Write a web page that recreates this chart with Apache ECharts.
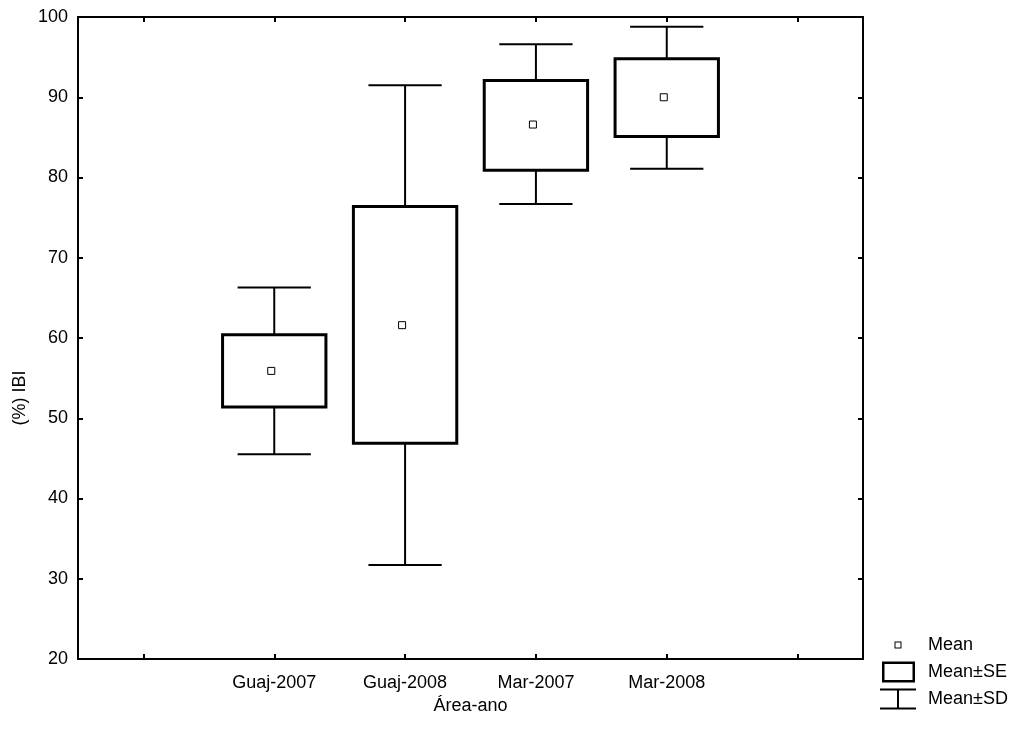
<!DOCTYPE html>
<html>
<head>
<meta charset="utf-8">
<script src="https://cdn.jsdelivr.net/npm/echarts@6/dist/echarts.min.js"></script>
<style>
html,body{margin:0;padding:0;background:#fff;}
#chart{width:1021px;height:735px;}
</style>
</head>
<body>
<div id="chart"></div>
<script>
// ---- data ----
const categories = ['', 'Guaj-2007', 'Guaj-2008', 'Mar-2007', 'Mar-2008', ' '];
const groups = ['Guaj-2007', 'Guaj-2008', 'Mar-2007', 'Mar-2008'];
const means  = [55.9, 61.6, 86.6, 90.0];
const seLow  = [51.4, 46.9, 80.9, 85.1];
const seHigh = [60.4, 76.4, 92.1, 94.8];
const sdLow  = [45.5, 31.7, 76.7, 81.1];
const sdHigh = [66.3, 91.5, 96.6, 98.8];
const yTicks = { min: 20, max: 100, interval: 10 };

const FONT = 'Liberation Sans, Arial, sans-serif';
const chart = echarts.init(document.getElementById('chart'), null, { renderer: 'canvas' });

const sdData = groups.map((g, i) => [g, sdLow[i], sdHigh[i]]);
const seData = groups.map((g, i) => [g, seLow[i], seHigh[i]]);
const meanData = groups.map((g, i) => [g, means[i]]);

const CORNERS = 'M0,0L0.01,0L0,0.01Z M43,22L42.99,22L43,21.99Z ';

function renderSD(params, api) {
  const xi = api.value(0);
  const x = api.coord([xi, 0])[0];
  const yLo = api.coord([xi, api.value(1)])[1];
  const yHi = api.coord([xi, api.value(2)])[1];
  const band = api.size([1, 0])[0];
  const half = band * 0.28;
  const style = { stroke: '#000', lineWidth: 2, fill: null };
  return {
    type: 'group',
    children: [
      { type: 'line', shape: { x1: x, y1: yLo, x2: x, y2: yHi }, style },
      { type: 'line', shape: { x1: x - half, y1: yLo, x2: x + half, y2: yLo }, style },
      { type: 'line', shape: { x1: x - half, y1: yHi, x2: x + half, y2: yHi }, style }
    ]
  };
}
function renderSE(params, api) {
  const xi = api.value(0);
  const x = api.coord([xi, 0])[0];
  const yLo = api.coord([xi, api.value(1)])[1];
  const yHi = api.coord([xi, api.value(2)])[1];
  const band = api.size([1, 0])[0];
  const w = band * 0.79;
  return {
    type: 'rect',
    shape: { x: x - w / 2, y: yHi, width: w, height: yLo - yHi },
    style: { fill: '#fff', stroke: '#000', lineWidth: 3 }
  };
}

const tickStyle = { show: true, inside: true, length: 5, lineStyle: { color: '#000', width: 2 } };
const lineStyle = { show: true, lineStyle: { color: '#000', width: 2 } };

chart.setOption({
  animation: false,
  backgroundColor: '#fff',
  grid: { left: 78, right: 158, top: 17, bottom: 76, containLabel: false },
  xAxis: [
    {
      type: 'category', data: categories, boundaryGap: true, position: 'bottom',
      axisLine: lineStyle,
      axisTick: Object.assign({ alignWithLabel: true, interval: 0 }, tickStyle),
      axisLabel: { interval: 0, color: '#000', fontSize: 18, fontFamily: FONT, margin: 15 },
      splitLine: { show: false },
      name: 'Área-ano', nameLocation: 'middle', nameGap: 35,
      nameTextStyle: { color: '#000', fontSize: 18, fontFamily: FONT }
    },
    {
      type: 'category', data: categories, boundaryGap: true, position: 'top',
      axisLine: lineStyle,
      axisTick: Object.assign({ alignWithLabel: true, interval: 0 }, tickStyle),
      axisLabel: { show: false }, splitLine: { show: false }
    }
  ],
  yAxis: [
    {
      type: 'value', min: yTicks.min, max: yTicks.max, interval: yTicks.interval, position: 'left',
      axisLine: lineStyle, axisTick: tickStyle,
      axisLabel: { color: '#000', fontSize: 18, fontFamily: FONT, margin: 10 },
      splitLine: { show: false }
    },
    {
      type: 'value', min: yTicks.min, max: yTicks.max, interval: yTicks.interval, position: 'right',
      axisLine: lineStyle, axisTick: tickStyle,
      axisLabel: { show: false }, splitLine: { show: false }
    }
  ],
  legend: {
    orient: 'vertical', left: 877, top: 634, padding: 0,
    itemWidth: 43, itemHeight: 22, itemGap: 5,
    selectedMode: false,
    textStyle: { color: '#000', fontSize: 18, fontFamily: FONT, padding: [0, 0, 0, 3] },
    data: [
      { name: 'Mean', icon: 'path://' + CORNERS + 'M17.5,7.5H24.5V14.5H17.5Z M18.5,8.5V13.5H23.5V8.5Z', itemStyle: { color: '#000', borderWidth: 0 } },
      { name: 'Mean±SE', icon: 'path://' + CORNERS + 'M5,0.5H38V21.5H5Z M7.5,3V19H35.5V3Z', itemStyle: { color: '#000', borderWidth: 0 } },
      { name: 'Mean±SD', icon: 'path://' + CORNERS + 'M3,0.5H39V2.5H22V19.5H39V21.5H3V19.5H20V2.5H3Z', itemStyle: { color: '#000', borderWidth: 0 } }
    ]
  },
  graphic: [
    {
      type: 'text', x: 20, y: 398, rotation: Math.PI / 2,
      style: { text: '(%) IBI', fill: '#000', font: '18px ' + FONT, align: 'center', verticalAlign: 'middle' }
    }
  ],
  series: [
    {
      name: 'Mean±SD', type: 'custom', xAxisIndex: 0, yAxisIndex: 0,
      renderItem: renderSD, data: sdData, z: 2,
      itemStyle: { color: '#000' }, encode: { x: 0, y: [1, 2] }
    },
    {
      name: 'Mean±SE', type: 'custom', xAxisIndex: 0, yAxisIndex: 0,
      renderItem: renderSE, data: seData, z: 3,
      itemStyle: { color: '#000' }, encode: { x: 0, y: [1, 2] }
    },
    {
      name: 'Mean', type: 'scatter', xAxisIndex: 0, yAxisIndex: 0,
      data: meanData, symbol: 'rect', symbolSize: 7, symbolOffset: [-3, 0], z: 4,
      itemStyle: { color: '#fff', borderColor: '#000', borderWidth: 1, opacity: 1 }
    }
  ]
});
</script>
</body>
</html>
